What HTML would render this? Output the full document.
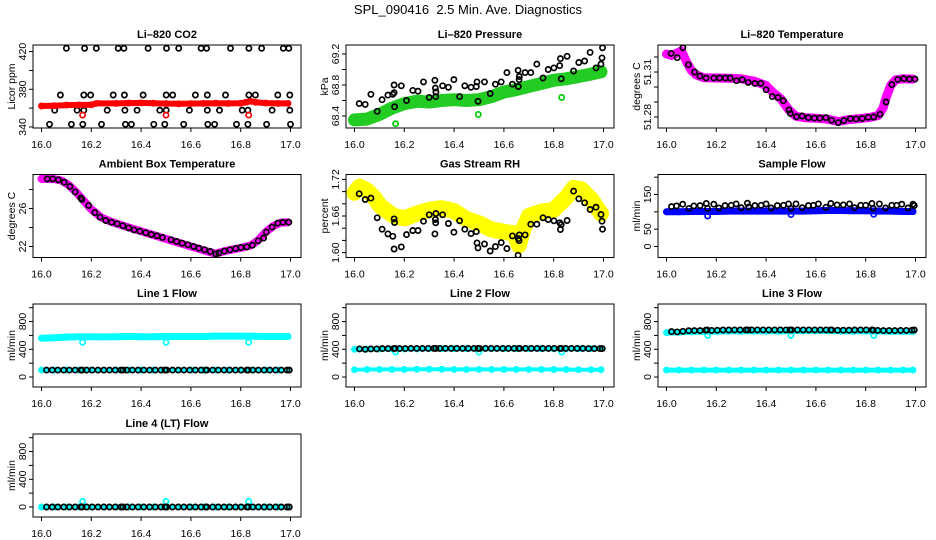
<!DOCTYPE html>
<html><head><meta charset="utf-8"><style>
html,body{margin:0;padding:0;background:#fff;}
svg{display:block;font-family:"Liberation Sans",sans-serif;}
</style></head><body>
<svg id="chart" width="936" height="540" viewBox="0 0 936 540" xmlns="http://www.w3.org/2000/svg">
<text x="468" y="14" text-anchor="middle" font-size="13" style="white-space:pre">SPL_090416  2.5 Min. Ave. Diagnostics</text>
</svg>
<script>
// ---- shared axis data ----
const xTicks = [16.0, 16.2, 16.4, 16.6, 16.8, 17.0];
const xTickLabels = ["16.0", "16.2", "16.4", "16.6", "16.8", "17.0"];
const xMin = 16.0, xMax = 17.0;

// ---- CO2 ----
const co2BlackX = [16.100,16.173,16.220,16.308,16.331,16.428,16.502,16.551,16.641,16.663,16.759,16.833,16.884,16.971,16.993,
 16.076,16.170,16.197,16.288,16.333,16.408,16.501,16.527,16.618,16.666,16.739,16.833,16.859,16.949,16.997,
 16.053,16.143,16.170,16.264,16.335,16.384,16.475,16.501,16.594,16.666,16.715,16.806,16.829,16.926,16.997,
 16.032,16.120,16.166,16.241,16.337,16.361,16.451,16.495,16.571,16.668,16.695,16.783,16.829,16.904,17.000];
const co2BlackY = [423.5,423.5,423.5,423.5,423.5,423.5,423.5,423.5,423.5,423.5,423.5,423.5,423.5,423.5,423.5,
 373.9,373.9,373.9,373.9,373.9,373.9,373.9,373.9,373.9,373.9,373.9,373.9,373.9,373.9,373.9,
 357.8,357.8,357.8,357.8,357.8,357.8,357.8,357.8,357.8,357.8,357.8,357.8,357.8,357.8,357.8,
 342.8,342.8,342.8,342.8,342.8,342.8,342.8,342.8,342.8,342.8,342.8,342.8,342.8,342.8,342.8];
const co2RedX = [16.0,16.05,16.1,16.15,16.2,16.22,16.3,16.35,16.4,16.45,16.5,16.55,16.6,16.65,16.7,16.75,16.8,16.82,16.84,16.86,16.9,16.95,16.99];
const co2RedY = [362.3,362.6,363.2,363.4,363.5,365.0,365.0,365.3,365.5,365.2,364.8,364.6,364.8,365.0,365.2,365.0,365.2,366.2,367.2,366.2,365.3,365.0,365.0];
const co2RedOutX = [16.165,16.500,16.832];
const co2RedOutY = [352.6,352.6,352.6];

// ---- Pressure ----
const presBlackX = [16.019,16.043,16.066,16.091,16.111,16.134,16.154,16.159,16.161,16.159,16.188,16.209,16.234,16.255,16.277,16.300,16.323,16.325,16.327,16.326,16.354,16.377,16.399,16.422,16.443,16.468,16.489,16.492,16.496,16.522,16.545,16.566,16.589,16.612,16.634,16.657,16.658,16.661,16.662,16.685,16.708,16.732,16.757,16.778,16.801,16.824,16.827,16.830,16.854,16.880,16.901,16.924,16.946,16.970,16.990,16.994,16.996];
const presBlackY = [68.56,68.55,68.68,68.46,68.61,68.67,68.68,68.70,68.52,68.80,68.79,68.60,68.73,68.72,68.84,68.64,68.86,68.76,68.71,68.65,68.79,68.77,68.87,68.65,68.79,68.77,68.78,68.84,68.59,68.84,68.69,68.81,68.84,68.96,68.81,68.99,68.78,68.87,68.91,68.96,68.96,69.07,68.89,69.00,69.02,69.05,69.14,68.88,69.17,68.98,69.09,69.11,69.22,69.02,69.07,69.15,69.28];
const presGreenX = [16.0,16.05,16.1,16.15,16.2,16.25,16.3,16.35,16.4,16.45,16.5,16.55,16.6,16.65,16.7,16.75,16.8,16.85,16.9,16.95,16.99];
const presGreenY = [68.35,68.36,68.42,68.50,68.56,68.59,68.58,68.60,68.61,68.60,68.61,68.65,68.71,68.74,68.78,68.82,68.86,68.88,68.91,68.94,68.97];
const presGreenOutX = [16.165,16.497,16.832];
const presGreenOutY = [68.30,68.42,68.64];

// ---- Li-820 Temperature ----
const ltBlackX = [16.019,16.043,16.066,16.088,16.113,16.134,16.159,16.190,16.213,16.237,16.256,16.281,16.304,16.328,16.355,16.379,16.400,16.425,16.448,16.469,16.492,16.497,16.522,16.545,16.570,16.594,16.616,16.640,16.663,16.690,16.712,16.738,16.762,16.786,16.810,16.832,16.858,16.882,16.905,16.929,16.953,16.976,16.998];
const ltBlackY = [51.3224,51.3196,51.3262,51.3149,51.3100,51.3073,51.3060,51.3060,51.3060,51.3060,51.3060,51.3042,51.3049,51.3031,51.3024,51.3024,51.2982,51.2936,51.2931,51.2909,51.2847,51.2824,51.2802,51.2807,51.2796,51.2793,51.2793,51.2796,51.2778,51.2762,51.2776,51.2789,51.2787,51.2791,51.2798,51.2800,51.2818,51.2900,51.3016,51.3051,51.3056,51.3053,51.3053];
const ltMagX = [16.0,16.02,16.04,16.06,16.08,16.1,16.12,16.15,16.2,16.25,16.3,16.35,16.4,16.43,16.46,16.49,16.52,16.56,16.6,16.65,16.69,16.73,16.78,16.82,16.85,16.87,16.88,16.9,16.92,16.95,16.99];
const ltMagY = [51.3220,51.3210,51.3225,51.3240,51.3170,51.3110,51.3080,51.3062,51.3060,51.3058,51.3055,51.3040,51.3010,51.2960,51.2920,51.2850,51.2805,51.2795,51.2792,51.2785,51.2770,51.2782,51.2790,51.2798,51.2810,51.2860,51.2920,51.3010,51.3048,51.3055,51.3053];

// ---- Ambient Box Temperature ----
const ambBlackX = [16.023,16.045,16.068,16.091,16.114,16.135,16.158,16.162,16.189,16.214,16.235,16.258,16.281,16.304,16.327,16.350,16.372,16.395,16.419,16.441,16.464,16.486,16.520,16.543,16.565,16.588,16.611,16.632,16.655,16.678,16.700,16.712,16.734,16.757,16.780,16.801,16.824,16.847,16.870,16.892,16.903,16.926,16.949,16.970,16.993];
const ambBlackY = [29.12,29.12,29.02,28.77,28.32,27.75,27.12,26.95,26.32,25.58,25.09,24.74,24.56,24.39,24.18,23.96,23.75,23.61,23.44,23.26,23.12,22.95,22.70,22.53,22.35,22.18,22.00,21.82,21.65,21.47,21.23,21.30,21.51,21.65,21.79,21.89,21.96,22.14,22.60,22.88,23.51,24.04,24.46,24.56,24.56];
const ambMagX = [16.0,16.05,16.08,16.11,16.14,16.17,16.2,16.24,16.28,16.35,16.45,16.55,16.62,16.67,16.7,16.74,16.8,16.84,16.87,16.9,16.93,16.96,16.99];
const ambMagY = [29.12,29.10,28.95,28.45,27.70,26.80,25.90,25.05,24.60,24.00,23.20,22.40,21.85,21.45,21.25,21.55,21.85,22.10,22.65,23.50,24.15,24.50,24.56];

// ---- Gas Stream RH ----
const rhBlackX = presBlackX;
const rhBlackY = [1.6964,1.6871,1.6893,1.6570,1.6384,1.6307,1.6268,1.6553,1.6493,1.6060,1.6093,1.6296,1.6362,1.6362,1.6515,1.6619,1.6307,1.6542,1.6641,1.6488,1.6619,1.6477,1.6334,1.6521,1.6384,1.6312,1.6345,1.6159,1.6077,1.6142,1.6027,1.6099,1.6164,1.6066,1.6274,1.5956,1.6230,1.6197,1.6290,1.6290,1.6466,1.6466,1.6570,1.6542,1.6521,1.6488,1.6378,1.6460,1.6526,1.7008,1.6882,1.6816,1.6707,1.6745,1.6625,1.6515,1.6384];
const rhYelX = [16.0,16.02,16.05,16.08,16.1,16.13,16.16,16.2,16.25,16.3,16.35,16.4,16.45,16.5,16.55,16.6,16.64,16.66,16.68,16.7,16.75,16.8,16.85,16.88,16.91,16.95,16.99];
const rhYelY = [1.698,1.708,1.702,1.690,1.678,1.668,1.660,1.656,1.664,1.670,1.673,1.668,1.655,1.648,1.638,1.634,1.632,1.612,1.640,1.660,1.667,1.670,1.690,1.706,1.704,1.688,1.664];

// ---- Sample Flow ----
const sfBlackX = [16.02,16.04,16.065,16.09,16.11,16.135,16.16,16.165,16.19,16.21,16.235,16.26,16.28,16.30,16.325,16.33,16.355,16.38,16.40,16.42,16.445,16.47,16.49,16.50,16.52,16.545,16.57,16.59,16.61,16.64,16.66,16.685,16.71,16.735,16.755,16.78,16.80,16.825,16.83,16.855,16.88,16.905,16.925,16.945,16.97,16.99,16.995];
const sfBlackY = [115,117,122,110,117,118,124,110,122,111,118,119,123,112,125,114,118,119,123,111,118,119,123,110,123,112,118,119,123,113,124,120,120,123,112,119,119,124,110,123,111,119,119,122,111,122,118];
const sfBlueX = [16.0,16.05,16.1,16.15,16.2,16.25,16.3,16.35,16.4,16.45,16.5,16.55,16.6,16.65,16.7,16.75,16.8,16.85,16.9,16.95,16.99];
const sfBlueY = [100,100,101,101,101,102,102,102,102,102,102,102,103,104,104,103,103,102,102,101,101];
const sfBlueOutX = [16.165,16.500,16.832];
const sfBlueOutY = [88,92,93];

// ---- Line flows ----
const flowT = [16.02,16.043,16.066,16.089,16.112,16.135,16.158,16.163,16.181,16.204,16.227,16.25,16.273,16.296,16.319,16.327,16.342,16.365,16.388,16.411,16.434,16.457,16.48,16.496,16.503,16.526,16.549,16.572,16.595,16.618,16.641,16.66,16.664,16.687,16.71,16.733,16.756,16.779,16.802,16.825,16.83,16.848,16.871,16.894,16.917,16.94,16.963,16.986,16.995];
const line1Black = [100,100,100,100,100,100,100,100,100,100,100,100,100,100,100,100,100,100,100,100,100,100,100,100,100,100,100,100,100,100,100,100,100,100,100,100,100,100,100,100,100,100,100,100,100,100,100,100,100];
const line2Black = [405,400,405,405,410,410,410,412,410,410,412,412,412,412,412,412,412,412,412,412,412,412,412,412,412,412,412,412,412,412,412,412,412,412,412,412,412,412,412,412,412,412,412,412,412,410,410,410,410];
const line3Black = [655,650,660,668,670,670,675,680,672,675,678,678,680,680,680,680,680,680,680,680,680,680,680,680,680,680,680,680,680,680,680,680,680,675,675,675,678,680,680,680,675,672,670,670,670,672,672,675,680];
const line4Black = [0,0,0,0,0,0,0,0,0,0,0,0,0,0,0,0,0,0,0,0,0,0,0,0,0,0,0,0,0,0,0,0,0,0,0,0,0,0,0,0,0,0,0,0,0,0,0,0,0];
const cyanT = [16.0,16.05,16.1,16.15,16.2,16.25,16.3,16.35,16.4,16.45,16.5,16.55,16.6,16.65,16.7,16.75,16.8,16.85,16.9,16.95,16.99];
const line1CyanHi = [560,565,575,580,580,578,580,585,582,582,585,585,585,585,590,590,590,588,585,585,585];
const line1CyanLo = [100,100,100,100,100,100,100,100,100,100,100,100,100,100,100,100,100,100,100,100,100];
const line2CyanHi = [400,402,402,405,405,405,408,408,408,408,408,408,408,408,408,408,408,408,408,408,408];
const line2CyanLo = [105,108,110,110,110,112,112,112,110,110,110,110,110,110,110,110,108,108,105,105,105];
const line3CyanHi = [640,645,650,655,655,660,660,660,660,660,662,665,665,665,660,660,660,660,655,655,655];
const line3CyanLo = [100,100,100,100,100,100,100,100,100,100,100,100,100,100,100,100,100,100,100,100,100];
const line4Cyan = [0,0,0,0,0,0,0,0,0,0,0,0,0,0,0,0,0,0,0,0,0];
const flowOutX = [16.165,16.500,16.832];
const line1OutY = [500,500,500];
const line2OutY = [360,360,360];
const line3OutY = [600,600,600];
const line4OutY = [80,80,80];

// ---- drawing ----
const NS = "http://www.w3.org/2000/svg";
const svg = document.getElementById("chart");
const colLeft = [33, 346, 658], rowTop = [45, 174.5, 304, 434];
const boxW = 268, boxH = 83;
const flowTicks = [0,200,400,600,800,1000], flowLabels = ["0","","400","","800",""];

const panels = [
 {name:"co2", title:"Li\u2013820 CO2", ylab:"Licor ppm", c:0, r:0, ymin:338.9, ymax:427, ticks:[340,360,380,400,420], labels:["340","","380","","420"],
  series:[{x:co2BlackX,y:co2BlackY,col:"#000",t:"pts"},{x:co2RedX,y:co2RedY,col:"#ff0000",t:"band",w:6},{x:co2RedOutX,y:co2RedOutY,col:"#ff0000",t:"pts"}]},
 {name:"pressure", title:"Li\u2013820 Pressure", ylab:"kPa", c:1, r:0, ymin:68.245, ymax:69.316, ticks:[68.4,68.6,68.8,69.0,69.2], labels:["68.4","","68.8","","69.2"],
  series:[{x:presGreenX,y:presGreenY,col:"#22cc22",t:"band",w:13},{x:presGreenOutX,y:presGreenOutY,col:"#00cc00",t:"pts"},{x:presBlackX,y:presBlackY,col:"#000",t:"pts"}]},
 {name:"li820-temperature", title:"Li\u2013820 Temperature", ylab:"degrees C", c:2, r:0, ymin:51.2727, ymax:51.328, ticks:[51.28,51.29,51.30,51.31,51.32], labels:["51.28","","","51.31",""],
  series:[{x:ltMagX,y:ltMagY,col:"#ff00ff",t:"band",w:9},{x:ltBlackX,y:ltBlackY,col:"#000",t:"pts"}]},
 {name:"ambient-temperature", title:"Ambient Box Temperature", ylab:"degrees C", c:0, r:1, ymin:20.84, ymax:29.58, ticks:[22,24,26,28], labels:["22","","26",""],
  series:[{x:ambMagX,y:ambMagY,col:"#ff00ff",t:"band",w:8},{x:ambBlackX,y:ambBlackY,col:"#000",t:"pts"}]},
 {name:"gas-stream-rh", title:"Gas Stream RH", ylab:"percent", c:1, r:1, ymin:1.592, ymax:1.728, ticks:[1.60,1.62,1.64,1.66,1.68,1.70,1.72], labels:["1.60","","","1.66","","","1.72"],
  series:[{x:rhYelX,y:rhYelY,col:"#ffff00",t:"band",w:16},{x:rhBlackX,y:rhBlackY,col:"#000",t:"pts"}]},
 {name:"sample-flow", title:"Sample Flow", ylab:"ml/min", c:2, r:1, ymin:-31.7, ymax:207.7, ticks:[0,50,100,150,200], labels:["0","50","","150",""],
  series:[{x:sfBlueX,y:sfBlueY,col:"#0000ff",t:"band",w:7},{x:sfBlueOutX,y:sfBlueOutY,col:"#0000ff",t:"pts"},{x:sfBlackX,y:sfBlackY,col:"#000",t:"pts"}]},
 {name:"line1-flow", title:"Line 1 Flow", ylab:"ml/min", c:0, r:2, ymin:-144, ymax:1053, ticks:flowTicks, labels:flowLabels,
  series:[{x:cyanT,y:line1CyanHi,col:"#00ffff",t:"band",w:7},{x:cyanT,y:line1CyanLo,col:"#00ffff",t:"band",w:4},{x:flowOutX,y:line1OutY,col:"#00ffff",t:"pts"},{x:flowT,y:line1Black,col:"#000",t:"pts"}]},
 {name:"line2-flow", title:"Line 2 Flow", ylab:"ml/min", c:1, r:2, ymin:-144, ymax:1053, ticks:flowTicks, labels:flowLabels,
  series:[{x:cyanT,y:line2CyanHi,col:"#00ffff",t:"band",w:5},{x:cyanT,y:line2CyanLo,col:"#00ffff",t:"band",w:4},{x:flowOutX,y:line2OutY,col:"#00ffff",t:"pts"},{x:flowT,y:line2Black,col:"#000",t:"pts"}]},
 {name:"line3-flow", title:"Line 3 Flow", ylab:"ml/min", c:2, r:2, ymin:-144, ymax:1053, ticks:flowTicks, labels:flowLabels,
  series:[{x:cyanT,y:line3CyanHi,col:"#00ffff",t:"band",w:6},{x:cyanT,y:line3CyanLo,col:"#00ffff",t:"band",w:5},{x:flowOutX,y:line3OutY,col:"#00ffff",t:"pts"},{x:flowT,y:line3Black,col:"#000",t:"pts"}]},
 {name:"line4-flow", title:"Line 4 (LT) Flow", ylab:"ml/min", c:0, r:3, ymin:-144, ymax:1053, ticks:flowTicks, labels:flowLabels,
  series:[{x:cyanT,y:line4Cyan,col:"#00ffff",t:"band",w:4},{x:flowOutX,y:line4OutY,col:"#00ffff",t:"pts"},{x:flowT,y:line4Black,col:"#000",t:"pts"}]}
];

function mk(tag, attrs, parent){
  const e = document.createElementNS(NS, tag);
  for (const k in attrs) e.setAttribute(k, attrs[k]);
  (parent||svg).appendChild(e);
  return e;
}

panels.forEach(p => {
  const L = colLeft[p.c], T = rowTop[p.r], R = L + boxW, B = T + boxH;
  const xs = v => L + 8.5 + (v - xMin) / (xMax - xMin) * 249;
  const ys = v => B - (v - p.ymin) / (p.ymax - p.ymin) * boxH;
  const g = mk("g", {});
  
  

  const clip = mk("clipPath", {id: "clip-" + p.name}, g);
  mk("rect", {x: L, y: T, width: boxW, height: boxH}, clip);
  const plot = mk("g", {"clip-path": "url(#clip-" + p.name + ")"}, g);
  
  

  p.series.forEach((s, si) => {
    const sg = mk("g", {}, plot);
    
    
    if (s.t === "band") {
      const pts = s.x.map((xv, i) => xs(xv).toFixed(1) + "," + ys(s.y[i]).toFixed(1)).join(" ");
      const pl = mk("polyline", {points: pts, fill: "none", stroke: s.col, "stroke-width": s.w, "stroke-linejoin": "round", "stroke-linecap": "round"}, sg);
      
      
    }
    s.x.forEach((xv, i) => {
      const c = mk("circle", {cx: xs(xv).toFixed(1), cy: ys(s.y[i]).toFixed(1), r: 2.6, fill: "none", stroke: s.col, "stroke-width": 1.7}, sg);
      
      
    });
  });

  const box = mk("rect", {x: L, y: T, width: boxW, height: boxH, fill: "none", stroke: "#000", "stroke-width": 1}, g);
  
  

  const ttl = mk("text", {x: L + boxW / 2, y: T - 7, "text-anchor": "middle", "font-size": 11, "font-weight": "bold"}, g);
  ttl.textContent = p.title;
  
  

  xTicks.forEach((tv, i) => {
    const x = xs(tv);
    const tk = mk("line", {x1: x, x2: x, y1: B, y2: B + 4, stroke: "#000"}, g);
    
    
    const lb = mk("text", {x: x, y: B + 20, "text-anchor": "middle", "font-size": 10.5}, g);
    lb.textContent = xTickLabels[i];
    
    
  });
  p.ticks.forEach((tv, i) => {
    const y = ys(tv);
    const tk = mk("line", {x1: L - 4, x2: L, y1: y, y2: y, stroke: "#000"}, g);
    
    
    if (p.labels[i]) {
      const lb = mk("text", {x: L - 7, y: y, "text-anchor": "middle", "font-size": 10.5, transform: "rotate(-90 " + (L - 7) + " " + y + ")"}, g);
      lb.textContent = p.labels[i];
      
      
    }
  });
  const yl = mk("text", {x: L - 18, y: T + boxH / 2, "text-anchor": "middle", "font-size": 10.5, transform: "rotate(-90 " + (L - 18) + " " + (T + boxH / 2) + ")"}, g);
  yl.textContent = p.ylab;
  
  
});
</script>
</body></html>
